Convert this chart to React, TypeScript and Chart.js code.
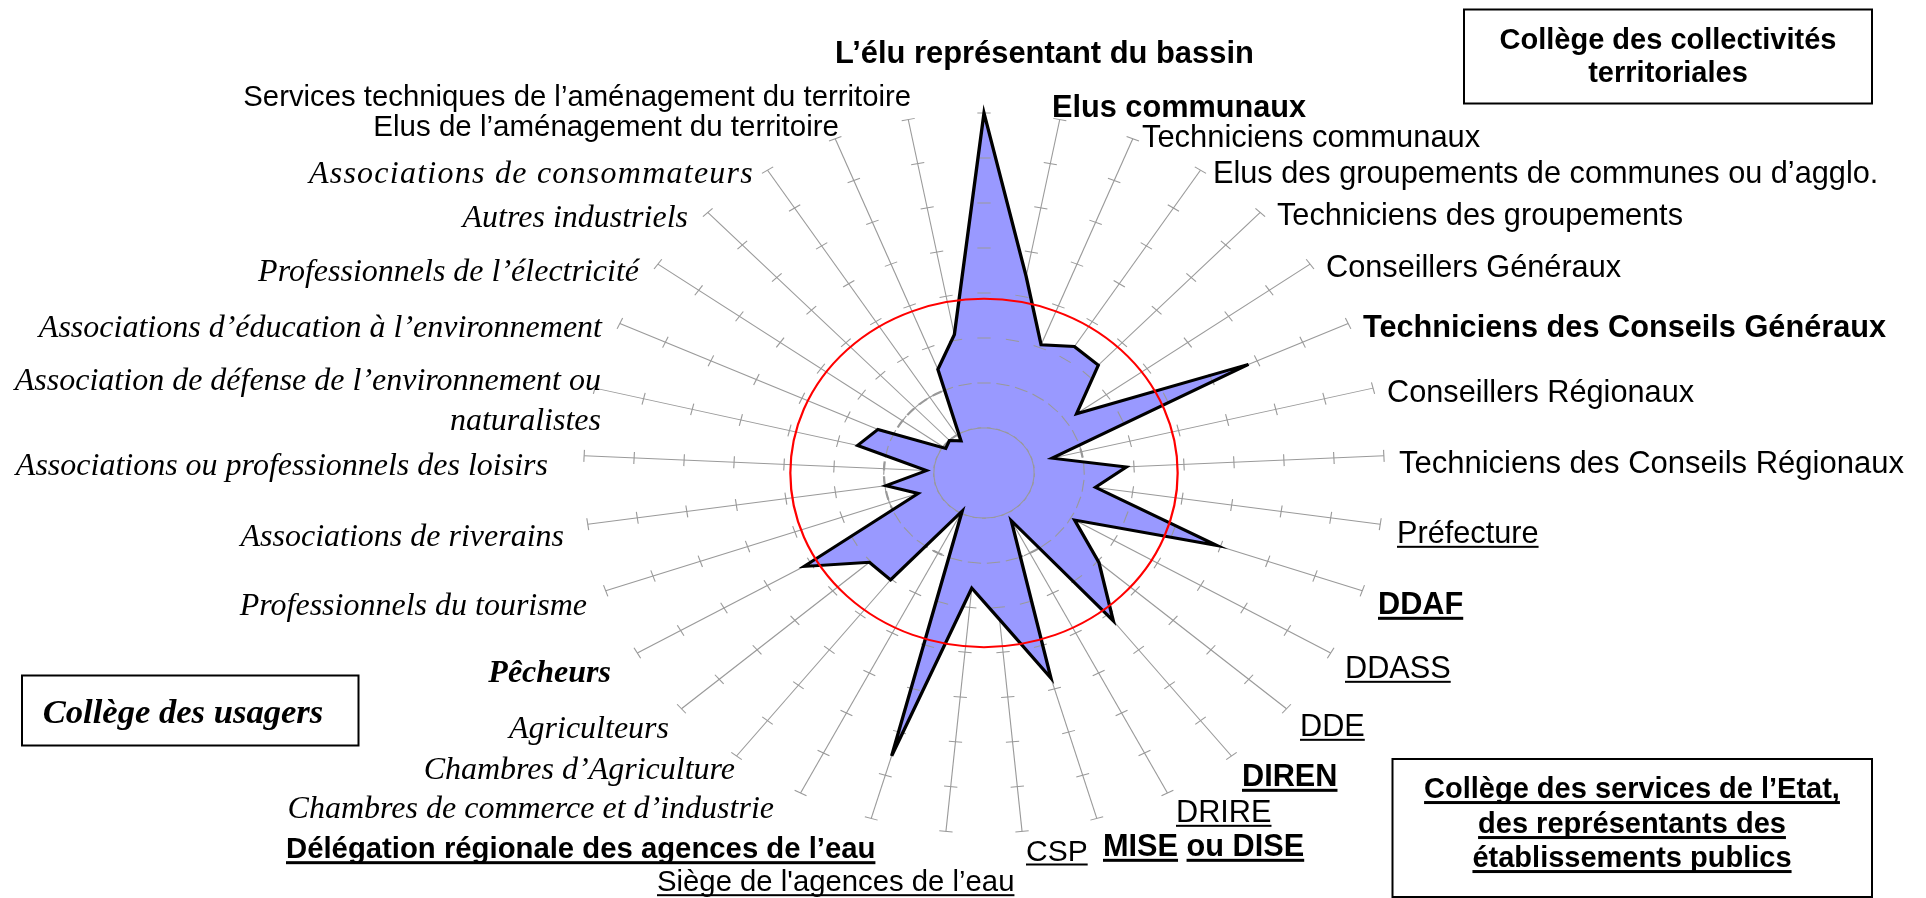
import React, { useEffect, useRef } from "react";
import { Chart, registerables } from "chart.js";

Chart.register(...registerables);

// ---------- data ----------
const CATEGORIES: string[] = [
  "L’élu représentant du bassin",
  "Elus communaux",
  "Techniciens communaux",
  "Elus des groupements de communes ou d’agglo.",
  "Techniciens des groupements",
  "Conseillers Généraux",
  "Techniciens des Conseils Généraux",
  "Conseillers Régionaux",
  "Techniciens des Conseils Régionaux",
  "Préfecture",
  "DDAF",
  "DDASS",
  "DDE",
  "DIREN",
  "DRIRE",
  "MISE ou DISE",
  "CSP",
  "Siège de l'agences de l’eau",
  "Délégation régionale des agences de l’eau",
  "Chambres de commerce et d’industrie",
  "Chambres d’Agriculture",
  "Agriculteurs",
  "Pêcheurs",
  "Professionnels du tourisme",
  "Associations de riverains",
  "Associations ou professionnels des loisirs",
  "Association de défense de l’environnement ou\nnaturalistes",
  "Associations d’éducation à l’environnement",
  "Professionnels de l’électricité",
  "Autres industriels",
  "Associations de consommateurs",
  "Elus de l’aménagement du territoire",
  "Services techniques de l’aménagement du territoire",
];

const VALUES: number[] = [
  8, 4.45, 3.07, 3.34, 3.31, 2.27, 5.81, 1.4, 2.85, 2.25, 4.93,
  2.09, 3.04, 4.18, 1.19, 4.75, 3.27, 2.57, 6.55, 0.95, 3.02, 3.03,
  4.15, 1.39, 1.98, 1.15, 2.6, 2.33, 0.94, 1.0, 0.85, 2.48, 3.13,
];

const SCALE_MIN = 0;
const SCALE_MAX = 8;
const SCALE_STEP = 1;
const INNER_RING = 1;
const DASHED_RING = 2;
const RED_RING = 3.87;

const BOX_COLLECTIVITES = ["Collège des collectivités", "territoriales"];
const BOX_ETAT = [
  "Collège des services de l’Etat,",
  "des représentants des",
  "établissements publics",
];
const BOX_USAGERS = ["Collège des usagers"];

// ---------- layout / style (not data) ----------
const W = 1926;
const H = 898;
const STRETCH_X = 1.112;
const SANS = '"Liberation Sans", Arial, sans-serif';
const SERIF = '"Liberation Serif", "Times New Roman", serif';
const SANS_SIZE = 30.7;
const SERIF_SIZE = 32;

// style codes: r regular sans, b bold, u underlined, i italic serif, s split underline
const LABEL_STYLE: string[] = [
  "b", "b", "r", "r", "r", "r", "b", "r", "r", "u", "bu", "u", "u", "bu",
  "u", "bus", "u", "u", "bu", "i", "i", "i", "bi", "i", "i", "i", "i",
  "i", "i", "i", "i", "r", "r",
];

// per-label font size overrides (0 = default)
const LABEL_SIZE: number[] = [
  30.9, 0, 30.9, 0, 0, 0, 0, 0, 31, 0, 0, 0, 0, 0, 0, 0, 30, 29.3, 29.3,
  0, 0, 0, 0, 0, 0, 0, 0, 0, 0, 0, 0, 29.5, 29.3,
];
const LABEL_SPACING: number[] = [
  0, 0, 0, 0, 0, 0, 0, 0, 0, 0, 0, 0, 0, 0, 0, 0, 0, 0, 0,
  0, 0, 0, 0, 0, 0, 0, 0, 0, 0, 0, 1.25, 0, 0,
];

// [x, y (visual middle), align]
const LABEL_ANCHOR: [number, number, string][] = [
  [835, 52, "left"],
  [1052, 106, "left"],
  [1142, 136, "left"],
  [1213, 172, "left"],
  [1277, 214, "left"],
  [1326, 266, "left"],
  [1363, 326, "left"],
  [1387, 391, "left"],
  [1399, 462, "left"],
  [1397, 532, "left"],
  [1378, 603, "left"],
  [1345, 667, "left"],
  [1300, 725, "left"],
  [1242, 775, "left"],
  [1176, 811, "left"],
  [1103, 845, "left"],
  [1026, 850, "left"],
  [657, 881, "left"],
  [286, 848, "left"],
  [774, 807, "right"],
  [735, 768, "right"],
  [669, 727, "right"],
  [611, 671, "right"],
  [587, 604, "right"],
  [564, 535, "right"],
  [548, 464, "right"],
  [601, 379, "right"],
  [602, 326, "right"],
  [639, 270, "right"],
  [688, 216, "right"],
  [754, 172, "right"],
  [839, 126, "right"],
  [911, 96, "right"],
];

function drawText(
  ctx: CanvasRenderingContext2D,
  text: string,
  x: number,
  y: number,
  align: string,
  style: string,
  sizeOverride?: number,
  spacing?: number
) {
  const serif = style.includes("i");
  const bold = style.includes("b");
  const underline = style.includes("u");
  const split = style.includes("s");
  const size = sizeOverride || (serif ? SERIF_SIZE : SANS_SIZE);
  ctx.font = `${serif ? "italic " : ""}${bold ? "bold " : ""}${size}px ${serif ? SERIF : SANS}`;
  (ctx as any).letterSpacing = `${spacing || 0}px`;
  ctx.fillStyle = "#000";
  ctx.textAlign = "left";
  ctx.textBaseline = "alphabetic";
  const lines = text.split("\n");
  const gap = size * 1.23;
  lines.forEach((line, li) => {
    const w = ctx.measureText(line).width;
    const x0 = align === "right" ? x - w : align === "center" ? x - w / 2 : x;
    const by = y + li * gap + size * 0.35;
    ctx.fillText(line, x0, by);
    if (underline) {
      const th = bold ? 3 : 2;
      const uy = by + size * 0.1;
      if (split && line.indexOf(" ") > 0) {
        const first = line.slice(0, line.indexOf(" "));
        const w1 = ctx.measureText(first).width;
        const w2 = ctx.measureText(first + " ").width;
        ctx.fillRect(x0, uy, w1, th);
        ctx.fillRect(x0 + w2, uy, w - w2, th);
      } else {
        ctx.fillRect(x0, uy, w, th);
      }
    }
  });
  (ctx as any).letterSpacing = "0px";
}

function drawBox(
  ctx: CanvasRenderingContext2D,
  x1: number,
  y1: number,
  x2: number,
  y2: number,
  lines: string[],
  textX: number,
  lineYs: number[],
  style: string,
  size: number
) {
  ctx.save();
  ctx.strokeStyle = "#000";
  ctx.lineWidth = 2;
  ctx.strokeRect(x1, y1, x2 - x1, y2 - y1);
  ctx.restore();
  lines.forEach((l, i) => drawText(ctx, l, textX, lineYs[i], "center", style, size));
}

const radarDecor = {
  id: "radarDecor",
  beforeDraw(chart: any) {
    const s = chart.scales.r;
    const ctx = chart.ctx as CanvasRenderingContext2D;
    ctx.save();
    ctx.translate(s.xCenter, 0);
    ctx.scale(STRETCH_X, 1);
    ctx.translate(-s.xCenter, 0);
  },
  afterDraw(chart: any) {
    const s = chart.scales.r;
    const ctx = chart.ctx as CanvasRenderingContext2D;
    const n = CATEGORIES.length;
    // tick marks across each spoke
    ctx.save();
    ctx.strokeStyle = "#999999";
    ctx.lineWidth = 1;
    for (let i = 0; i < n; i++) {
      const a = s.getIndexAngle(i) - Math.PI / 2;
      const px = -Math.sin(a);
      const py = Math.cos(a);
      for (let v = SCALE_STEP; v <= SCALE_MAX; v += SCALE_STEP) {
        const p = s.getPointPosition(i, s.getDistanceFromCenterForValue(v));
        ctx.beginPath();
        ctx.moveTo(p.x - px * 6, p.y - py * 6);
        ctx.lineTo(p.x + px * 6, p.y + py * 6);
        ctx.stroke();
      }
    }
    ctx.restore();
    // polygon outline from the dataset elements
    const meta = chart.getDatasetMeta(0);
    ctx.save();
    ctx.strokeStyle = "#000";
    ctx.lineWidth = 3;
    ctx.lineJoin = "miter";
    ctx.miterLimit = 10;
    ctx.beginPath();
    meta.data.forEach((pt: any, i: number) => {
      if (i === 0) ctx.moveTo(pt.x, pt.y);
      else ctx.lineTo(pt.x, pt.y);
    });
    ctx.closePath();
    ctx.stroke();
    ctx.restore();
    // red reference ring
    ctx.save();
    ctx.strokeStyle = "#FF0000";
    ctx.lineWidth = 2;
    ctx.beginPath();
    ctx.arc(s.xCenter, s.yCenter, s.getDistanceFromCenterForValue(RED_RING), 0, Math.PI * 2);
    ctx.stroke();
    ctx.restore();
    // end of stretched drawing
    ctx.restore();

    // category labels
    CATEGORIES.forEach((lab, i) => {
      const [x, y, align] = LABEL_ANCHOR[i];
      drawText(ctx, lab, x, y, align, LABEL_STYLE[i], LABEL_SIZE[i], LABEL_SPACING[i]);
    });
    // college boxes
    drawBox(ctx, 1464, 9.5, 1872, 103.5, BOX_COLLECTIVITES, 1668, [38.5, 71.5], "b", 29);
    drawBox(ctx, 1392.5, 759, 1872, 897, BOX_ETAT, 1632, [788, 823, 857], "bu", 29);
    drawBox(ctx, 22, 675.5, 358.5, 745.5, BOX_USAGERS, 183, [711], "bi", 34.6);
  },
};

export default function App() {
  const ref = useRef<HTMLCanvasElement>(null);
  useEffect(() => {
    document.body.style.margin = "0";
    const canvas = ref.current!;
    const chart = new Chart(canvas, {
      type: "radar",
      data: {
        labels: CATEGORIES,
        datasets: [
          {
            data: VALUES,
            backgroundColor: "#9999FF",
            borderWidth: 0,
            pointRadius: 0,
            pointHoverRadius: 0,
            fill: true,
            tension: 0,
          } as any,
        ],
      },
      options: {
        responsive: false,
        animation: false,
        devicePixelRatio: 1,
        layout: { padding: { left: 624, right: 582, top: 113, bottom: 65 } },
        plugins: { legend: { display: false }, tooltip: { enabled: false } },
        events: [],
        scales: {
          r: {
            min: SCALE_MIN,
            max: SCALE_MAX,
            startAngle: 0,
            ticks: { display: false, stepSize: SCALE_STEP, z: 1 },
            pointLabels: { display: false },
            angleLines: { display: true, color: "#9a9a9a", lineWidth: 1 },
            grid: {
              circular: true,
              lineWidth: 2,
              color: (c: any) =>
                c.tick && (c.tick.value === INNER_RING || c.tick.value === DASHED_RING)
                  ? "#999999"
                  : "rgba(0,0,0,0)",
            },
            border: {
              dash: (c: any) => (c.tick && c.tick.value === DASHED_RING ? [9, 6] : []),
            },
          } as any,
        },
      },
      plugins: [radarDecor],
    });
    return () => chart.destroy();
  }, []);
  return (
    <div style={{ width: W, height: H, background: "#fff", overflow: "hidden" }}>
      <canvas ref={ref} width={W} height={H} style={{ display: "block", width: W, height: H }} />
    </div>
  );
}
